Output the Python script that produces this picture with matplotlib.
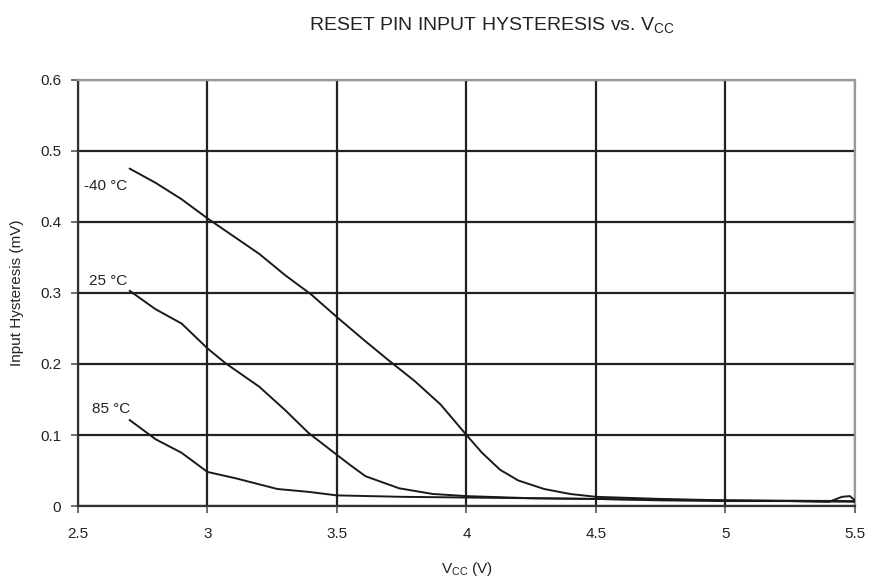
import matplotlib.pyplot as plt

# hysteresis curves read per temperature
v_m40 = [2.7, 2.8, 2.9, 3.0, 3.1, 3.2, 3.3, 3.4, 3.5, 3.6, 3.7, 3.8, 3.9, 4.0,
         4.06, 4.13, 4.2, 4.3, 4.4, 4.5, 4.75, 5.0, 5.25, 5.4, 5.45, 5.48, 5.5]
h_m40 = [0.475, 0.455, 0.432, 0.405, 0.38, 0.355, 0.325, 0.298, 0.266, 0.235,
         0.205, 0.176, 0.143, 0.10, 0.075, 0.051, 0.036, 0.024, 0.017, 0.013,
         0.010, 0.008, 0.007, 0.006, 0.013, 0.014, 0.008]

v_25 = [2.7, 2.8, 2.9, 3.0, 3.07, 3.2, 3.3, 3.39, 3.5, 3.55, 3.61, 3.74, 3.87,
        4.0, 4.25, 4.5, 4.75, 5.0, 5.25, 5.5]
h_25 = [0.303, 0.277, 0.257, 0.222, 0.201, 0.168, 0.135, 0.103, 0.072, 0.058,
        0.042, 0.025, 0.017, 0.014, 0.011, 0.010, 0.008, 0.007, 0.007, 0.006]

v_85 = [2.7, 2.8, 2.9, 3.0, 3.11, 3.27, 3.39, 3.5, 3.75, 4.0, 4.5, 5.0, 5.5]
h_85 = [0.121, 0.094, 0.075, 0.048, 0.039, 0.024, 0.020, 0.015, 0.013, 0.012,
        0.010, 0.008, 0.007]

fig = plt.figure(figsize=(8.78, 5.81), dpi=100)
ax = fig.add_axes([0.0888, 0.129, 0.885, 0.7335])
plt.rcParams['font.family'] = ['Liberation Sans', 'DejaVu Sans']
fnt = dict(family="Liberation Sans", color="#222222")

for v, h in [(v_m40, h_m40), (v_25, h_25), (v_85, h_85)]:
    ax.plot(v, h, color="#1a1a1a", linewidth=1.4, zorder=3)

ax.set_xlim(2.5, 5.5)
ax.set_ylim(0, 0.6)
ax.set_xticks([2.5, 3, 3.5, 4, 4.5, 5, 5.5])
ax.set_xticklabels(["2.5", "3", "3.5", "4", "4.5", "5", "5.5"], family="Liberation Sans")
ax.set_yticks([0, 0.1, 0.2, 0.3, 0.4, 0.5, 0.6])
ax.set_yticklabels(["0", "0.1", "0.2", "0.3", "0.4", "0.5", "0.6"], family="Liberation Sans")
ax.tick_params(labelsize=11, colors="#555555", labelcolor="#222222", length=5, width=1.2)
ax.tick_params(axis="x", pad=10)
ax.tick_params(axis="y", pad=7)
ax.grid(True, color="#222222", linewidth=1.6)
for side, s in ax.spines.items():
    s.set_color("#333333" if side in ("left", "bottom") else "#999999")
    s.set_linewidth(1.6)

ax.text(2.523, 0.445, "-40 °C", fontsize=11, **fnt)
ax.text(2.543, 0.311, "25 °C", fontsize=11, **fnt)
ax.text(2.554, 0.131, "85 °C", fontsize=11, **fnt)

ax.set_xlabel("V$_{\\mathregular{CC}}$ (V)", fontsize=11, labelpad=14, **fnt)
ax.set_ylabel("Input Hysteresis (mV)", fontsize=11, labelpad=12, **fnt)
fig.text(0.56, 0.955, "RESET PIN INPUT HYSTERESIS vs. V$_{\\mathregular{CC}}$", fontsize=14,
         ha="center", va="center", **fnt)

plt.savefig("out.png", dpi=100)
